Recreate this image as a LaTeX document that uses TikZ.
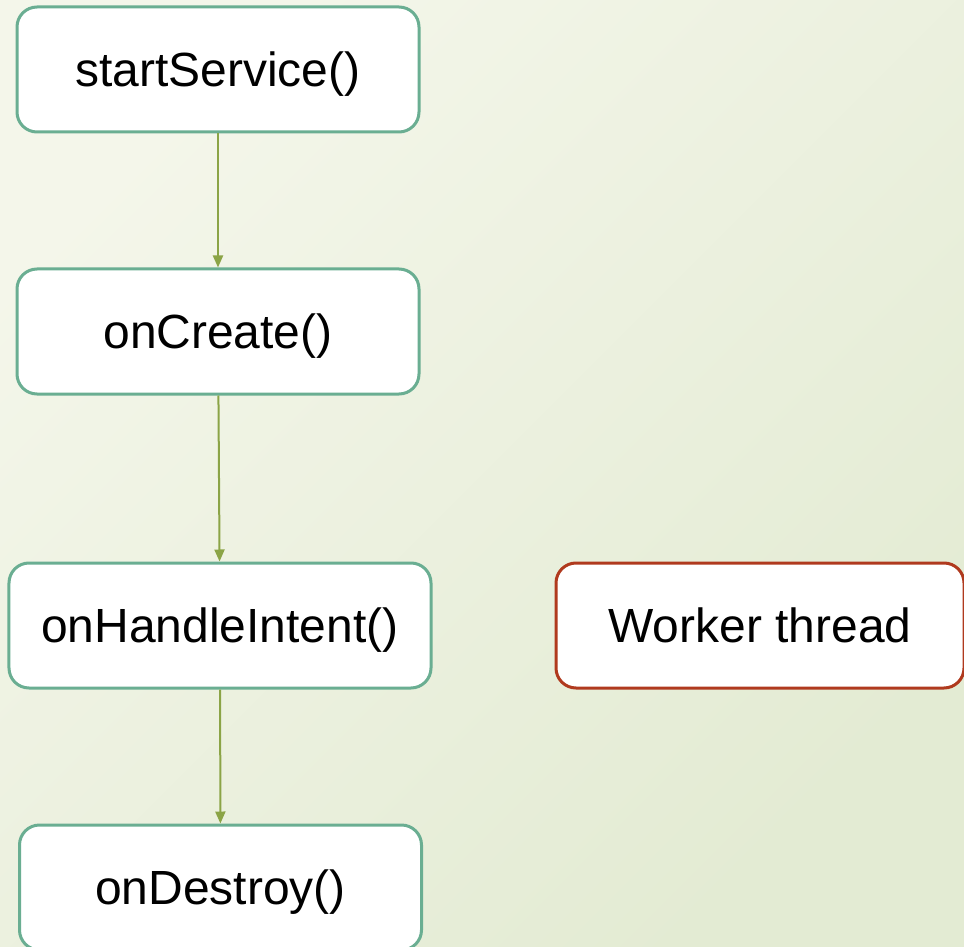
\documentclass[tikz,border=0pt]{standalone}
\usepackage{fontspec}
\setmainfont{Liberation Sans}
\usetikzlibrary{arrows.meta}
\definecolor{boxline}{RGB}{106,174,146}
\definecolor{workerline}{RGB}{176,58,30}
\definecolor{flowline}{RGB}{139,164,70}
\definecolor{bgtop}{RGB}{244,246,234}
\definecolor{bgbottom}{RGB}{227,235,211}

\begin{document}
\begin{tikzpicture}[>={Triangle[length=0.24cm, width=0.2cm]}]
    \tikzstyle{method} = [rectangle, draw=boxline, fill=white, line width=0.06cm, rounded corners=0.4cm,
                                      minimum width=8.04cm, minimum height=2.5cm, text centered,
                                      text height=19.5pt, text depth=0pt,
                                      font=\fontsize{27.3}{32}\selectfont]
    \tikzstyle{flow} = [->, draw=flowline, fill=flowline, line width=0.04cm]
  % background
  \shade[shading=axis, left color=bgtop, right color=bgbottom, shading angle=45] (0,0) rectangle (19.28,-18.94);
  \useasboundingbox (0,0) rectangle (19.28,-18.94);
  \node[method] (start) at (4.36,-1.39) {startService()};
  \node[method] (create) at (4.36,-6.63) {onCreate()};
  \node[method, minimum width=8.44cm] (handle) at (4.40,-12.51) {onHandleIntent()};
  \node[method] (destroy) at (4.41,-17.75) {onDestroy()};
  \node[method, draw=workerline, minimum width=8.16cm] (worker) at (15.20,-12.51) {Worker thread};
  \draw[flow] (start) -- (create);
  \draw[flow] (create) -- (handle);
  \draw[flow] (handle) -- (destroy);
\end{tikzpicture}
\end{document}
